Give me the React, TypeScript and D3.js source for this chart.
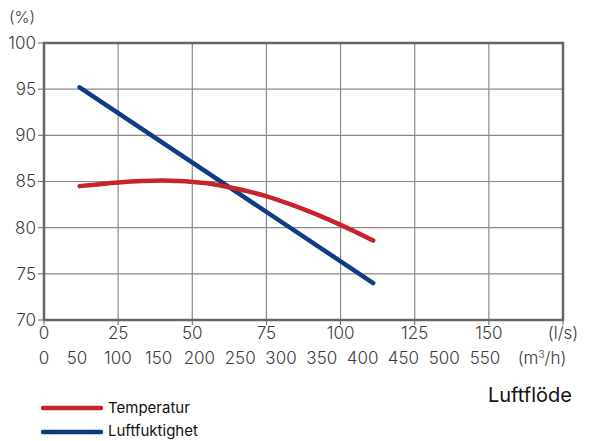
import React from 'react';
import * as d3 from 'd3';

const lsTicks = [0, 25, 50, 75, 100, 125, 150];
const m3hTicks = [0, 50, 100, 150, 200, 250, 300, 350, 400, 450, 500, 550];
const yTicks = [70, 75, 80, 85, 90, 95, 100];

const temperatur: [number, number][] = [
  [12, 84.5], [25, 84.9], [40, 85.1], [55, 84.8], [62, 84.4],
  [74, 83.5], [85, 82.3], [100, 80.3], [111, 78.6],
];
const luftfuktighet: [number, number][] = [
  [12, 95.2], [111, 74.0],
];

const RED = '#c8232c';
const BLUE = '#0f3e80';
const FONT = 'Inter, "Noto Sans", sans-serif';

const App: React.FC = () => {
  const width = 590;
  const height = 441;
  const left = 44;
  const right = 563;
  const top = 43;
  const bottom = 320;

  const x = d3.scaleLinear().domain([0, 175]).range([left, right]);
  const y = d3.scaleLinear().domain([70, 100]).range([bottom, top]);
  // m3/h labels are spaced on their own (not converted from l/s)
  const xm = d3.scaleLinear().domain([50, 550]).range([77, 485]);

  const line = d3.line<[number, number]>()
    .x(d => x(d[0]))
    .y(d => y(d[1]))
    .curve(d3.curveMonotoneX);

  const gridX = d3.range(25, 175, 25);
  const tickFill = '#3c3c3c';

  return (
    <svg width={width} height={height} style={{ position: 'absolute', left: 0, top: 0 }}
      fontFamily={FONT}>
      <rect width={width} height={height} fill="#fff" />

      {/* grid */}
      {gridX.map(v => (
        <line key={'gx' + v} x1={x(v)} x2={x(v)} y1={top} y2={bottom} stroke="#8a8a8a" strokeWidth={1.2} />
      ))}
      {yTicks.slice(1, -1).map(v => (
        <line key={'gy' + v} x1={left} x2={right} y1={y(v)} y2={y(v)} stroke="#8a8a8a" strokeWidth={1.2} />
      ))}

      {/* frame */}
      <rect x={left} y={top} width={right - left} height={bottom - top}
        fill="none" stroke="#666" strokeWidth={2.5} />

      {/* y ticks */}
      {yTicks.map(v => (
        <g key={'yt' + v}>
          <line x1={left - 6} x2={left} y1={y(v)} y2={y(v)} stroke="#666" strokeWidth={1} />
          <text x={left - 8} y={y(v)} dy="0.35em" textAnchor="end" fontSize={17} fontWeight={300} fill={tickFill}>{v}</text>
        </g>
      ))}
      <text x={9} y={23} fontSize={16} fontWeight={300} fill={tickFill}>(%)</text>

      {/* x ticks l/s */}
      {[...lsTicks, 175].map(v => (
        <line key={'xt' + v} x1={x(v)} x2={x(v)} y1={bottom} y2={bottom + 5} stroke="#666" strokeWidth={1} />
      ))}
      {lsTicks.map(v => (
        <text key={'xl' + v} x={x(v)} y={339} textAnchor="middle" fontSize={17} fontWeight={300} fill={tickFill}>{v}</text>
      ))}
      <text x={x(175)} y={339} textAnchor="middle" fontSize={17} fontWeight={300} fill={tickFill}>(l/s)</text>

      {/* x labels m3/h */}
      {m3hTicks.map(v => (
        <text key={'xm' + v} x={v === 0 ? x(0) : xm(v)} y={364} textAnchor="middle" fontSize={17} fontWeight={300} fill={tickFill}>{v}</text>
      ))}
      <text x={542} y={364} textAnchor="middle" fontSize={17} fontWeight={300} fill={tickFill}>(m<tspan dy={-6} fontSize={10}>3</tspan><tspan dy={6}>/h)</tspan></text>

      <text x={572} y={402} textAnchor="end" fontSize={20} fill="#111">Luftflöde</text>

      {/* series */}
      <path d={line(luftfuktighet) || ''} fill="none" stroke={BLUE} strokeWidth={4.5} strokeLinecap="round" />
      <path d={line(temperatur) || ''} fill="none" stroke={RED} strokeWidth={4.5} strokeLinecap="round" />

      {/* legend */}
      <line x1={43} x2={101} y1={408} y2={408} stroke={RED} strokeWidth={4.5} strokeLinecap="round" />
      <text x={108} y={413} fontSize={15} fill="#111">Temperatur</text>
      <line x1={43} x2={101} y1={432} y2={432} stroke={BLUE} strokeWidth={4.5} strokeLinecap="round" />
      <text x={108} y={436} fontSize={15} fill="#111">Luftfuktighet</text>
    </svg>
  );
};

export default App;
